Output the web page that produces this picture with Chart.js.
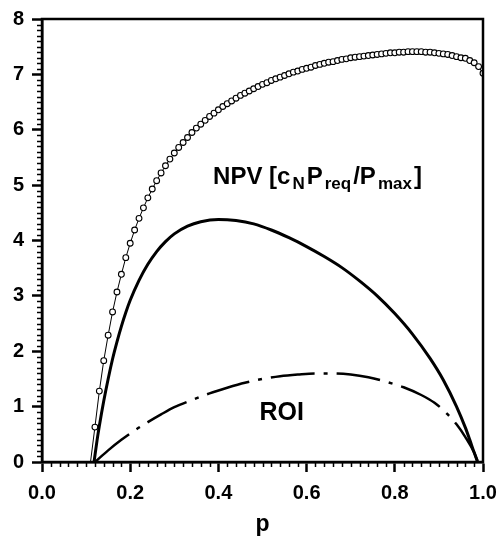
<!DOCTYPE html>
<html>
<head>
<meta charset="utf-8">
<script src="https://cdn.jsdelivr.net/npm/chart.js@4/dist/chart.umd.min.js"></script>
<style>
  body { margin: 0; background: #fff; }
  #wrap { width: 500px; height: 538px; }
</style>
</head>
<body>
<div id="wrap"><canvas id="myChart"></canvas></div>
<script>
// Upper curve (open circles), p = 0.11 .. 1.00
const pUpper = [0.11, 0.12, 0.13, 0.14, 0.15, 0.16, 0.17, 0.18, 0.19, 0.20,
  0.21, 0.22, 0.23, 0.24, 0.25, 0.26, 0.27, 0.28, 0.29, 0.30,
  0.31, 0.32, 0.33, 0.34, 0.35, 0.36, 0.37, 0.38, 0.39, 0.40,
  0.41, 0.42, 0.43, 0.44, 0.45, 0.46, 0.47, 0.48, 0.49, 0.50,
  0.51, 0.52, 0.53, 0.54, 0.55, 0.56, 0.57, 0.58, 0.59, 0.60,
  0.61, 0.62, 0.63, 0.64, 0.65, 0.66, 0.67, 0.68, 0.69, 0.70,
  0.71, 0.72, 0.73, 0.74, 0.75, 0.76, 0.77, 0.78, 0.79, 0.80,
  0.81, 0.82, 0.83, 0.84, 0.85, 0.86, 0.87, 0.88, 0.89, 0.90,
  0.91, 0.92, 0.93, 0.94, 0.95, 0.96, 0.97, 0.98, 0.99, 1.00];
const vUpper = [0, 0.63, 1.28, 1.83, 2.29, 2.71, 3.07, 3.39, 3.69, 3.95,
  4.19, 4.40, 4.59, 4.77, 4.93, 5.08, 5.22, 5.35, 5.47, 5.58,
  5.68, 5.77, 5.86, 5.95, 6.03, 6.10, 6.17, 6.24, 6.30, 6.36,
  6.42, 6.47, 6.52, 6.57, 6.62, 6.66, 6.70, 6.74, 6.78, 6.82,
  6.85, 6.89, 6.92, 6.95, 6.98, 7.01, 7.04, 7.06, 7.09, 7.11,
  7.13, 7.16, 7.18, 7.20, 7.22, 7.23, 7.25, 7.27, 7.28, 7.30,
  7.31, 7.32, 7.33, 7.34, 7.35, 7.36, 7.37, 7.38, 7.39, 7.39,
  7.40, 7.40, 7.41, 7.41, 7.41, 7.41, 7.40, 7.40, 7.39, 7.38,
  7.37, 7.36, 7.34, 7.32, 7.30, 7.29, 7.25, 7.21, 7.14, 7.02];

// NPV curve (thick solid)
const pNpv = [0.118, 0.125, 0.13, 0.14, 0.15, 0.16, 0.17, 0.18, 0.19, 0.20,
  0.22, 0.24, 0.26, 0.28, 0.30, 0.33, 0.36, 0.40, 0.44, 0.48, 0.52, 0.56,
  0.60, 0.64, 0.68, 0.72, 0.76, 0.80, 0.84, 0.88, 0.91, 0.94, 0.96, 0.97,
  0.98, 0.988];
const vNpv = [0, 0.40, 0.65, 1.10, 1.50, 1.86, 2.17, 2.45, 2.70, 2.92,
  3.28, 3.57, 3.80, 3.98, 4.12, 4.26, 4.34, 4.38, 4.36, 4.30, 4.19, 4.05,
  3.89, 3.71, 3.51, 3.27, 3.00, 2.68, 2.31, 1.87, 1.48, 1.00, 0.62, 0.40,
  0.17, 0];

// ROI curve (dash-dot)
const pRoi = [0.12, 0.15, 0.18, 0.21, 0.24, 0.27, 0.30, 0.34, 0.38, 0.42, 0.46, 0.50,
  0.54, 0.58, 0.62, 0.66, 0.70, 0.74, 0.78, 0.82, 0.86, 0.89, 0.92, 0.94,
  0.96, 0.98, 0.988];
const vRoi = [0, 0.21, 0.40, 0.57, 0.72, 0.86, 0.99, 1.12, 1.24, 1.34, 1.43, 1.50,
  1.55, 1.58, 1.60, 1.60, 1.58, 1.53, 1.45, 1.35, 1.21, 1.07, 0.86, 0.68,
  0.45, 0.17, 0];

const xTicks = [0, 0.2, 0.4, 0.6, 0.8, 1.0];
const yTicks = [0, 1, 2, 3, 4, 5, 6, 7, 8];

function pts(xs, ys) {
  return xs.map((x, i) => ({ x: x, y: ys[i] }));
}

const FONT = "'Liberation Sans', Arial, sans-serif";

// Minor ticks, frame and text labels
const extras = {
  id: 'extras',
  afterDraw(chart) {
    const ctx = chart.ctx;
    const a = chart.chartArea;
    const xs = chart.scales.x;
    const ys = chart.scales.y;
    ctx.save();
    ctx.strokeStyle = '#000';
    ctx.lineWidth = 1.5;
    ctx.beginPath();
    for (let i = 1; i < 80; i++) {
      if (i % 10 === 0) continue;
      const y = Math.round(ys.getPixelForValue(i / 10)) + 0.5;
      ctx.moveTo(a.left - 5, y);
      ctx.lineTo(a.left, y);
    }
    for (let i = 1; i < 50; i++) {
      if (i % 10 === 0) continue;
      const x = Math.round(xs.getPixelForValue(i / 50)) + 0.5;
      ctx.moveTo(x, a.bottom);
      ctx.lineTo(x, a.bottom + 5);
    }
    ctx.stroke();

    ctx.lineWidth = 2.5;
    ctx.strokeRect(a.left, a.top, a.right - a.left, a.bottom - a.top);

    // NPV label with subscripts
    ctx.fillStyle = '#000';
    ctx.textBaseline = 'alphabetic';
    const big = 'bold 24px ' + FONT;
    const small = 'bold 17px ' + FONT;
    const parts = [
      ['NPV [c', big, 0], ['N', small, 5], ['P', big, 0], ['req', small, 5],
      ['/P', big, 0], ['max', small, 5], [']', big, 0]
    ];
    let x = xs.getPixelForValue(0.388);
    const base = ys.getPixelForValue(5.02);
    parts.forEach(p => {
      ctx.font = p[1];
      ctx.fillText(p[0], x, base + p[2]);
      x += ctx.measureText(p[0]).width + 2;
    });

    ctx.font = 'bold 25px ' + FONT;
    ctx.fillText('ROI', xs.getPixelForValue(0.493), ys.getPixelForValue(0.76));
    ctx.restore();
  }
};

const ctx = document.getElementById('myChart').getContext('2d');
const myChart = new Chart(ctx, {
  type: 'line',
  data: {
    datasets: [{
      label: 'ROI',
      data: pts(pRoi, vRoi),
      borderColor: '#000',
      borderWidth: 2.5,
      borderDash: [44, 9, 4, 9],
      pointRadius: 0,
      cubicInterpolationMode: 'monotone',
      fill: false
    }, {
      label: 'NPV',
      data: pts(pNpv, vNpv),
      borderColor: '#000',
      borderWidth: 3,
      pointRadius: 0,
      cubicInterpolationMode: 'monotone',
      fill: false
    }, {
      label: 'NPV [cN Preq/Pmax]',
      data: pts(pUpper, vUpper),
      borderColor: '#000',
      borderWidth: 1,
      pointRadius: c => (c.dataIndex === 0 ? 0 : 2.9),
      pointBackgroundColor: '#fff',
      pointBorderColor: '#000',
      pointBorderWidth: 1.1,
      tension: 0,
      fill: false
    }]
  },
  options: {
    responsive: true,
    maintainAspectRatio: false,
    animation: false,
    layout: { padding: { left: 0, right: 17, top: 19, bottom: 0 } },
    plugins: {
      legend: { display: false },
      tooltip: { enabled: false }
    },
    scales: {
      x: {
        type: 'linear',
        min: 0,
        max: 1,
        afterFit: s => { s.height = 76; s.paddingLeft = 0; s.paddingRight = 0; },
        afterBuildTicks: s => { s.ticks = xTicks.map(v => ({ value: v })); },
        ticks: {
          callback: v => v.toFixed(1),
          color: '#000',
          font: { family: FONT, size: 20, weight: 'bold' },
          padding: 9,
          maxRotation: 0
        },
        grid: {
          drawOnChartArea: false,
          tickLength: 10,
          tickColor: '#000',
          tickWidth: 2.5
        },
        border: { color: '#000', width: 2.5 },
        title: {
          display: true,
          text: 'p',
          color: '#000',
          font: { family: FONT, size: 23, weight: 'bold' },
          padding: { top: 0, bottom: 0 }
        }
      },
      y: {
        min: 0,
        max: 8,
        afterFit: s => { s.width = 42; s.paddingTop = 0; s.paddingBottom = 0; },
        afterBuildTicks: s => { s.ticks = yTicks.map(v => ({ value: v })); },
        ticks: {
          callback: v => String(v),
          color: '#000',
          font: { family: FONT, size: 20, weight: 'bold' },
          padding: 8
        },
        grid: {
          drawOnChartArea: false,
          tickLength: 10,
          tickColor: '#000',
          tickWidth: 2.5
        },
        border: { color: '#000', width: 2.5 }
      }
    }
  },
  plugins: [extras]
});
</script>
</body>
</html>
